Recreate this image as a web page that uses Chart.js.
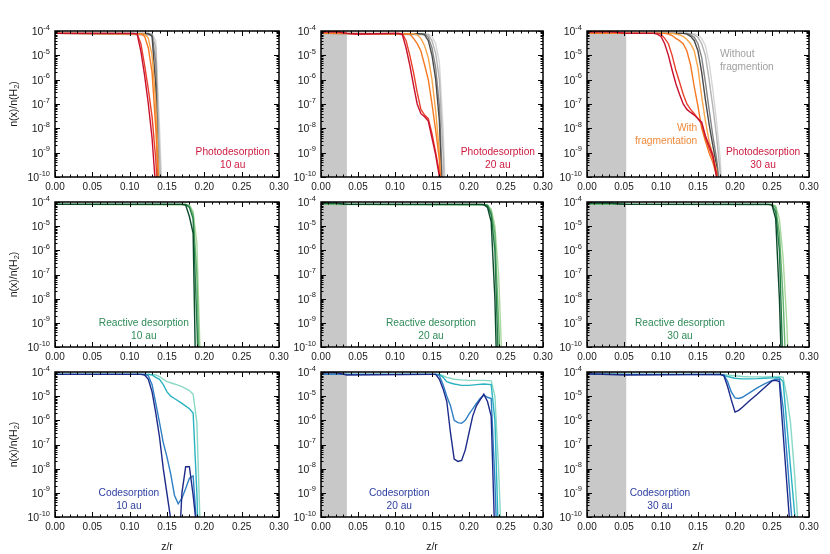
<!DOCTYPE html>
<html>
<head>
<meta charset="utf-8">
<script src="https://cdn.jsdelivr.net/npm/chart.js@4.4.1/dist/chart.umd.min.js"></script>
<style>
  body { margin: 0; background: #fff; }
  #wrap { position: relative; width: 830px; height: 554px; }
  #wrap canvas { position: absolute; left: 0; top: 0; }
</style>
</head>
<body>
<div id="wrap"></div>
<script>
// axis ticks
const xTicks = [0, 0.05, 0.1, 0.15, 0.2, 0.25, 0.3];
const yDecades = [-10, -9, -8, -7, -6, -5, -4];
const bandEdges = [0, 0.035, 0.053]; // grey zone per column (10, 20, 30 au)

// colours: 4 with fragmentation, 4 without
const photoColors = ['#c8102e', '#e8402a', '#f47920', '#f9a64a', '#4a4a4a', '#858585', '#b4b4b4', '#d6d6d6'];
const reactColors = ['#0b4a2a', '#237d47', '#63b26e', '#a9d89d'];
const codesColors = ['#1c2a8a', '#2f7fc4', '#2bb3c0', '#88d8c6'];

// photodesorption, [z/r, n(x)/n(H2)]
const photo10 = [
  [[0,8e-5],[0.105,8e-5],[0.11,7.5e-5],[0.115,1.5e-5],[0.12,1.5e-6],[0.125,1e-7],[0.13,4e-9],[0.135,3e-11],[0.14,1e-12]],
  [[0,8e-5],[0.11,7.8e-5],[0.115,3e-5],[0.12,4e-6],[0.125,4e-7],[0.13,3e-8],[0.135,5e-10],[0.14,1e-12]],
  [[0,8e-5],[0.115,7.8e-5],[0.12,6e-5],[0.125,2e-5],[0.13,2e-6],[0.135,1e-8],[0.14,1e-11]],
  [[0,8e-5],[0.12,7.5e-5],[0.125,5e-5],[0.13,1e-5],[0.135,1e-7],[0.14,1e-11]],
  [[0,8e-5],[0.125,8e-5],[0.13,6e-5],[0.135,5e-7],[0.14,1e-13]],
  [[0,8e-5],[0.13,7e-5],[0.135,5e-6],[0.14,1e-11]],
  [[0,8e-5],[0.13,7.5e-5],[0.135,2e-5],[0.14,1e-9],[0.145,1e-13]],
  [[0,8e-5],[0.13,7.8e-5],[0.135,4e-5],[0.14,1e-8],[0.145,1e-12]]
];
const photo20 = [
  [[0,9e-5],[0.02,9.5e-5],[0.035,8e-5],[0.05,7.5e-5],[0.1,8e-5],[0.105,8e-5],[0.11,7e-5],[0.115,2e-5],[0.12,4e-6],[0.125,6e-7],[0.13,1e-7],[0.135,4e-8],[0.14,3e-8],[0.145,2e-8],[0.15,4e-9],[0.155,8e-10],[0.16,1e-10],[0.165,1e-12]],
  [[0,9e-5],[0.02,9.5e-5],[0.035,8e-5],[0.05,7.5e-5],[0.1,8e-5],[0.11,7.8e-5],[0.115,4e-5],[0.12,1e-5],[0.125,2e-6],[0.13,3e-7],[0.135,6e-8],[0.14,3.5e-8],[0.145,2.5e-8],[0.15,6e-9],[0.155,1e-9],[0.16,1.5e-10],[0.165,1e-12]],
  [[0,8e-5],[0.12,7.5e-5],[0.125,5e-5],[0.13,3e-5],[0.135,1.5e-5],[0.14,4e-6],[0.145,1e-6],[0.15,1e-7],[0.155,8e-9],[0.16,5e-10],[0.165,1e-12]],
  [[0,8e-5],[0.125,7.8e-5],[0.13,7e-5],[0.135,5e-5],[0.14,2.5e-5],[0.145,8e-6],[0.15,1e-6],[0.155,5e-8],[0.16,1e-9],[0.165,1e-12]],
  [[0,8e-5],[0.135,7.8e-5],[0.14,7e-5],[0.145,4e-5],[0.15,1e-5],[0.155,1e-6],[0.16,2e-8],[0.165,1e-12]],
  [[0,8e-5],[0.14,7.5e-5],[0.145,5.5e-5],[0.15,2e-5],[0.155,3e-6],[0.16,8e-8],[0.165,1e-11]],
  [[0,8e-5],[0.145,7e-5],[0.15,4e-5],[0.155,1.2e-5],[0.16,1e-6],[0.165,1e-9],[0.17,1e-13]],
  [[0,8e-5],[0.145,7.5e-5],[0.15,6e-5],[0.155,3e-5],[0.16,5e-6],[0.165,1e-8],[0.17,1e-12]]
];
const photo30 = [
  [[0,9e-5],[0.03,9.5e-5],[0.053,8e-5],[0.09,8e-5],[0.095,7.5e-5],[0.1,6e-5],[0.105,3e-5],[0.11,1e-5],[0.115,2.5e-6],[0.12,7e-7],[0.125,2.5e-7],[0.13,1e-7],[0.135,6e-8],[0.14,4.5e-8],[0.145,3.5e-8],[0.15,2.5e-8],[0.155,1.8e-8],[0.16,5e-9],[0.165,2e-9],[0.17,8e-10],[0.175,1e-10],[0.18,1e-12]],
  [[0,9e-5],[0.03,9.5e-5],[0.053,8e-5],[0.095,8e-5],[0.1,7.5e-5],[0.105,5e-5],[0.11,3e-5],[0.115,1e-5],[0.12,2.5e-6],[0.125,8e-7],[0.13,2.5e-7],[0.135,1e-7],[0.14,6e-8],[0.145,4e-8],[0.15,2.5e-8],[0.155,1.5e-8],[0.16,4e-9],[0.165,1.5e-9],[0.17,6e-10],[0.175,1.5e-10],[0.18,1e-12]],
  [[0,8e-5],[0.105,8e-5],[0.11,7.5e-5],[0.115,6.5e-5],[0.12,5e-5],[0.125,4e-5],[0.13,3e-5],[0.135,1.5e-5],[0.14,4e-6],[0.145,5e-7],[0.15,8e-8],[0.155,1e-8],[0.16,3e-9],[0.165,1e-9],[0.17,4e-10],[0.175,1.2e-10],[0.18,1e-12]],
  [[0,8e-5],[0.115,8e-5],[0.12,7.5e-5],[0.125,7e-5],[0.13,6e-5],[0.135,4.5e-5],[0.14,3e-5],[0.145,1.5e-5],[0.15,3e-6],[0.155,2e-7],[0.16,2e-8],[0.165,3e-9],[0.17,8e-10],[0.175,2e-10],[0.18,1e-12]],
  [[0,8e-5],[0.13,8e-5],[0.135,7.5e-5],[0.14,6e-5],[0.145,4e-5],[0.15,1.5e-5],[0.155,2e-6],[0.16,1.5e-7],[0.165,1.5e-8],[0.17,2e-9],[0.175,3e-10],[0.18,1e-11]],
  [[0,8e-5],[0.135,8e-5],[0.14,7e-5],[0.145,5.5e-5],[0.15,3e-5],[0.155,8e-6],[0.16,8e-7],[0.165,6e-8],[0.17,5e-9],[0.175,6e-10],[0.18,3e-11],[0.185,1e-12]],
  [[0,8e-5],[0.14,8e-5],[0.145,7e-5],[0.15,5.5e-5],[0.155,3e-5],[0.16,1e-5],[0.165,1e-6],[0.17,8e-8],[0.175,5e-9],[0.18,1.5e-10],[0.185,1e-12]],
  [[0,8e-5],[0.145,7.8e-5],[0.15,7e-5],[0.155,5e-5],[0.16,2.5e-5],[0.165,5e-6],[0.17,4e-7],[0.175,2e-8],[0.18,6e-10],[0.185,1e-12]]
];

// reactive desorption
const react10 = [
  [[0,8e-5],[0.17,8e-5],[0.175,7.5e-5],[0.18,2.5e-5],[0.185,5e-6],[0.19,1e-14]],
  [[0,8e-5],[0.175,8e-5],[0.18,6e-5],[0.185,2e-5],[0.19,1e-9],[0.195,1e-14]],
  [[0,8e-5],[0.175,8e-5],[0.18,7e-5],[0.185,3e-5],[0.19,1e-7],[0.195,1e-13]],
  [[0,8e-5],[0.18,7.5e-5],[0.185,4e-5],[0.19,2e-6],[0.195,1e-11]]
];
const react20 = [
  [[0,9e-5],[0.02,9e-5],[0.035,8e-5],[0.215,8e-5],[0.22,7.8e-5],[0.225,6e-5],[0.23,1.5e-5],[0.235,1e-8],[0.24,1e-14]],
  [[0,9e-5],[0.02,9e-5],[0.035,8e-5],[0.22,8e-5],[0.225,7e-5],[0.23,3e-5],[0.235,1e-6],[0.24,1e-11]],
  [[0,8e-5],[0.225,7.5e-5],[0.23,4e-5],[0.235,5e-6],[0.24,1e-9],[0.245,1e-13]],
  [[0,8e-5],[0.225,7.8e-5],[0.23,5e-5],[0.235,1e-5],[0.24,1e-7],[0.245,1e-11]]
];
const react30 = [
  [[0,9e-5],[0.03,9e-5],[0.053,8e-5],[0.245,8e-5],[0.25,7.5e-5],[0.255,2e-5],[0.26,1e-8],[0.265,1e-13]],
  [[0,9e-5],[0.03,9e-5],[0.053,8e-5],[0.25,7.8e-5],[0.255,4e-5],[0.26,1e-6],[0.265,1e-11]],
  [[0,8e-5],[0.25,8e-5],[0.255,6e-5],[0.26,5e-6],[0.265,1e-8],[0.27,1e-12]],
  [[0,8e-5],[0.25,8e-5],[0.255,7e-5],[0.26,2e-5],[0.265,5e-7],[0.27,1e-9],[0.275,1e-13]]
];

// codesorption
const codes10 = [
  [[0,8e-5],[0.115,8e-5],[0.12,7.5e-5],[0.125,5e-5],[0.13,1.5e-5],[0.135,2e-6],[0.14,2e-7],[0.145,1e-8],[0.15,9e-10],[0.155,8e-11],[0.16,1e-12],[0.165,1e-12],[0.17,1e-9],[0.175,1.2e-8],[0.18,1.2e-8],[0.185,8e-10],[0.19,3e-11],[0.195,1e-12]],
  [[0,8e-5],[0.12,8e-5],[0.125,7e-5],[0.13,3e-5],[0.135,5e-6],[0.14,8e-7],[0.145,1.2e-7],[0.15,3e-8],[0.155,6e-9],[0.16,8e-10],[0.165,3.5e-10],[0.17,6e-10],[0.175,1.5e-9],[0.18,4e-9],[0.185,5e-9],[0.19,3e-11],[0.195,1e-12]],
  [[0,8e-5],[0.125,8e-5],[0.13,7.5e-5],[0.135,6e-5],[0.14,5e-5],[0.145,3e-5],[0.15,1.5e-5],[0.155,1e-5],[0.16,8e-6],[0.17,5e-6],[0.18,3e-6],[0.185,2e-6],[0.19,1e-9],[0.195,1e-14]],
  [[0,8e-5],[0.13,8e-5],[0.135,7.5e-5],[0.14,6.5e-5],[0.145,5e-5],[0.15,4e-5],[0.16,3.2e-5],[0.17,2.5e-5],[0.18,1.7e-5],[0.185,1.2e-5],[0.19,8e-7],[0.195,1e-11]]
];
const codes20 = [
  [[0,9e-5],[0.02,9.5e-5],[0.035,7.5e-5],[0.15,8e-5],[0.155,8e-5],[0.16,5e-5],[0.165,2e-5],[0.17,6e-6],[0.175,3e-7],[0.18,2.5e-8],[0.185,2e-8],[0.19,2.2e-8],[0.195,6e-8],[0.2,3e-7],[0.205,1.5e-6],[0.21,4e-6],[0.215,7e-6],[0.22,1.2e-5],[0.225,6e-6],[0.23,1.5e-6],[0.235,1e-11]],
  [[0,8e-5],[0.155,8e-5],[0.16,7e-5],[0.165,3e-5],[0.17,1e-5],[0.175,4e-6],[0.18,1e-6],[0.185,8e-7],[0.19,7.5e-7],[0.195,1e-6],[0.2,1.8e-6],[0.205,3e-6],[0.21,5e-6],[0.215,8e-6],[0.22,1.1e-5],[0.225,9e-6],[0.23,8e-6],[0.235,3e-9],[0.24,1e-13]],
  [[0,8e-5],[0.16,8e-5],[0.165,6e-5],[0.17,4e-5],[0.175,3.5e-5],[0.18,3.2e-5],[0.19,2.8e-5],[0.2,2.8e-5],[0.21,3e-5],[0.22,3.2e-5],[0.23,3e-5],[0.235,1e-6],[0.24,1e-11]],
  [[0,8e-5],[0.16,8e-5],[0.165,7e-5],[0.17,6e-5],[0.175,5.5e-5],[0.18,5e-5],[0.19,4.7e-5],[0.2,4.5e-5],[0.21,4.5e-5],[0.22,4.5e-5],[0.23,4.3e-5],[0.235,1e-5],[0.24,1e-8],[0.245,1e-12]]
];
const codes30 = [
  [[0,8.5e-5],[0.053,7.5e-5],[0.18,8e-5],[0.185,7e-5],[0.19,2.5e-5],[0.195,7e-6],[0.2,2.2e-6],[0.205,2.6e-6],[0.21,3.5e-6],[0.22,6.6e-6],[0.23,1.2e-5],[0.24,2.3e-5],[0.25,4.3e-5],[0.255,4.5e-5],[0.26,4e-5],[0.265,3e-7],[0.27,2.5e-9],[0.275,2e-11]],
  [[0,8e-5],[0.185,7.8e-5],[0.19,4e-5],[0.195,1.5e-5],[0.2,8.5e-6],[0.205,8e-6],[0.21,9e-6],[0.22,1.4e-5],[0.23,2.2e-5],[0.24,3.2e-5],[0.25,4.5e-5],[0.255,5e-5],[0.26,5e-5],[0.265,3.4e-6],[0.27,4e-8],[0.275,4e-10],[0.28,5e-12]],
  [[0,8e-5],[0.18,8e-5],[0.19,6.5e-5],[0.2,5.5e-5],[0.21,5.2e-5],[0.22,5.2e-5],[0.23,5.3e-5],[0.24,5.5e-5],[0.25,5.7e-5],[0.26,5.8e-5],[0.265,4e-5],[0.27,7e-7],[0.275,1.2e-8],[0.28,2.2e-10],[0.285,4e-12]],
  [[0,9e-5],[0.053,8e-5],[0.185,8e-5],[0.19,7.5e-5],[0.2,7e-5],[0.21,6.5e-5],[0.22,6.3e-5],[0.24,6.3e-5],[0.25,6.4e-5],[0.26,6.5e-5],[0.265,6e-5],[0.27,1e-5],[0.275,8e-7],[0.28,1e-8],[0.285,6e-11],[0.29,1e-12]]
];

const FONT = '"Liberation Sans", Arial, Helvetica, sans-serif';
const photoText = '#cc1a3f', reactText = '#2e8b57', codesText = '#2d3ea0';

// panel boxes (pixels) and annotation anchors (z, value)
const colLeft = [55, 321, 587], colRight = [279, 543, 809];
const rowTop = [31, 202, 372], rowBottom = [177, 347, 517];

const panels = [
  { r: 0, c: 0, lines: photo10, colors: photoColors, notes: [{ t: ['Photodesorption', '10 au'], z: 0.238, v: 1e-9, align: 'center', color: photoText }] },
  { r: 0, c: 1, lines: photo20, colors: photoColors, notes: [{ t: ['Photodesorption', '20 au'], z: 0.239, v: 1e-9, align: 'center', color: photoText }] },
  { r: 0, c: 2, lines: photo30, colors: photoColors, notes: [
      { t: ['Photodesorption', '30 au'], z: 0.238, v: 1e-9, align: 'center', color: photoText },
      { t: ['Without', 'fragmention'], z: 0.1797, v: 1.1e-5, align: 'left', color: '#a0a0a0' },
      { t: ['With', 'fragmentation'], z: 0.149, v: 1e-8, align: 'right', color: '#f08a3c' }] },
  { r: 1, c: 0, lines: react10, colors: reactColors, notes: [{ t: ['Reactive desorption', '10 au'], z: 0.119, v: 1e-9, align: 'center', color: reactText }] },
  { r: 1, c: 1, lines: react20, colors: reactColors, notes: [{ t: ['Reactive desorption', '20 au'], z: 0.1486, v: 1e-9, align: 'center', color: reactText }] },
  { r: 1, c: 2, lines: react30, colors: reactColors, notes: [{ t: ['Reactive desorption', '30 au'], z: 0.1257, v: 1e-9, align: 'center', color: reactText }] },
  { r: 2, c: 0, lines: codes10, colors: codesColors, notes: [{ t: ['Codesorption', '10 au'], z: 0.099, v: 1e-9, align: 'center', color: codesText }] },
  { r: 2, c: 1, lines: codes20, colors: codesColors, notes: [{ t: ['Codesorption', '20 au'], z: 0.1058, v: 1e-9, align: 'center', color: codesText }] },
  { r: 2, c: 2, lines: codes30, colors: codesColors, notes: [{ t: ['Codesorption', '30 au'], z: 0.0986, v: 1e-9, align: 'center', color: codesText }] }
];

const panelPlugin = {
  id: 'panel',
  beforeDatasetsDraw(chart, args, opts) {
    const ctx = chart.ctx, a = chart.chartArea, xs = chart.scales.x;
    if (opts.band > 0) {
      const x0 = xs.getPixelForValue(0), x1 = xs.getPixelForValue(opts.band);
      ctx.save();
      ctx.fillStyle = '#c8c8c8';
      ctx.fillRect(x0, a.top, x1 - x0, a.bottom - a.top);
      ctx.restore();
    }
  },
  afterDraw(chart, args, opts) {
    const ctx = chart.ctx, a = chart.chartArea;
    const xs = chart.scales.x, ys = chart.scales.y;
    ctx.save();
    // inward ticks on all four sides
    ctx.strokeStyle = '#000';
    ctx.lineWidth = 1;
    ctx.beginPath();
    for (let i = 0; i <= 30; i++) {
      const x = Math.round(xs.getPixelForValue(i / 100)) + 0.5;
      const len = i % 5 === 0 ? 5 : 2.5;
      ctx.moveTo(x, a.bottom); ctx.lineTo(x, a.bottom - len);
      ctx.moveTo(x, a.top); ctx.lineTo(x, a.top + len);
    }
    yDecades.forEach((d) => {
      for (let k = 1; k <= 9; k++) {
        if (d === -4 && k > 1) break;
        const y = Math.round(ys.getPixelForValue(k * Math.pow(10, d))) + 0.5;
        const len = k === 1 ? 5 : 2.5;
        ctx.moveTo(a.left, y); ctx.lineTo(a.left + len, y);
        ctx.moveTo(a.right, y); ctx.lineTo(a.right - len, y);
      }
    });
    ctx.stroke();
    // frame
    ctx.lineWidth = 1.5;
    ctx.strokeRect(a.left, a.top, a.right - a.left, a.bottom - a.top);

    // tick labels
    ctx.fillStyle = '#1a1a1a';
    ctx.font = '10px ' + FONT;
    ctx.textAlign = 'center';
    ctx.textBaseline = 'top';
    xTicks.forEach((v) => {
      ctx.fillText(v.toFixed(2), xs.getPixelForValue(v), a.bottom + 5);
    });
    ctx.textAlign = 'right';
    ctx.textBaseline = 'middle';
    yDecades.forEach((d) => {
      const y = ys.getPixelForValue(Math.pow(10, d));
      ctx.font = '7.5px ' + FONT;
      const e = String(d);
      const ew = ctx.measureText(e).width;
      ctx.fillText(e, a.left - 5, y - 3.5);
      ctx.font = '10.5px ' + FONT;
      ctx.fillText('10', a.left - 5 - ew, y + 1);
    });

    // axis titles
    if (opts.yTitle) {
      ctx.save();
      ctx.translate(14, (a.top + a.bottom) / 2);
      ctx.rotate(-Math.PI / 2);
      ctx.font = '10.5px ' + FONT;
      const s1 = 'n(x)/n(H', s3 = ')';
      ctx.font = '7.5px ' + FONT;
      const w2 = ctx.measureText('2').width;
      ctx.font = '10.5px ' + FONT;
      const w1 = ctx.measureText(s1).width, w3 = ctx.measureText(s3).width;
      let x = -(w1 + w2 + w3) / 2;
      ctx.textAlign = 'left';
      ctx.textBaseline = 'middle';
      ctx.fillText(s1, x, 0);
      ctx.font = '7.5px ' + FONT;
      ctx.fillText('2', x + w1, 3);
      ctx.font = '10.5px ' + FONT;
      ctx.fillText(s3, x + w1 + w2, 0);
      ctx.restore();
    }
    if (opts.xTitle) {
      ctx.font = '10.5px ' + FONT;
      ctx.textAlign = 'center';
      ctx.textBaseline = 'middle';
      ctx.fillText('z/r', (a.left + a.right) / 2, 547);
    }

    // annotations
    ctx.font = '10.2px ' + FONT;
    ctx.textBaseline = 'middle';
    (opts.notes || []).forEach((n) => {
      ctx.fillStyle = n.color;
      ctx.textAlign = n.align;
      const x = xs.getPixelForValue(n.z), y = ys.getPixelForValue(n.v);
      n.t.forEach((line, i) => ctx.fillText(line, x, y + i * 13));
    });
    ctx.restore();
  }
};

const wrap = document.getElementById('wrap');
panels.forEach((p) => {
  const cv = document.createElement('canvas');
  cv.width = 830;
  cv.height = 554;
  wrap.appendChild(cv);
  new Chart(cv, {
    type: 'line',
    data: {
      datasets: p.lines.map((pts, i) => ({
        data: pts.map(([x, y]) => ({ x: x, y: y })),
        borderColor: p.colors[i],
        borderWidth: 1.4,
        pointRadius: 0,
        fill: false,
        tension: 0
      }))
    },
    options: {
      responsive: false,
      animation: false,
      devicePixelRatio: 1,
      layout: {
        padding: {
          left: colLeft[p.c],
          right: 830 - colRight[p.c],
          top: rowTop[p.r],
          bottom: 554 - rowBottom[p.r]
        }
      },
      scales: {
        x: { type: 'linear', min: 0, max: 0.3, display: false },
        y: { type: 'logarithmic', min: 1e-10, max: 1e-4, display: false }
      },
      plugins: {
        legend: { display: false },
        tooltip: { enabled: false },
        panel: {
          band: bandEdges[p.c],
          notes: p.notes,
          yTitle: p.c === 0,
          xTitle: p.r === 2
        }
      }
    },
    plugins: [panelPlugin]
  });
});
</script>
</body>
</html>
